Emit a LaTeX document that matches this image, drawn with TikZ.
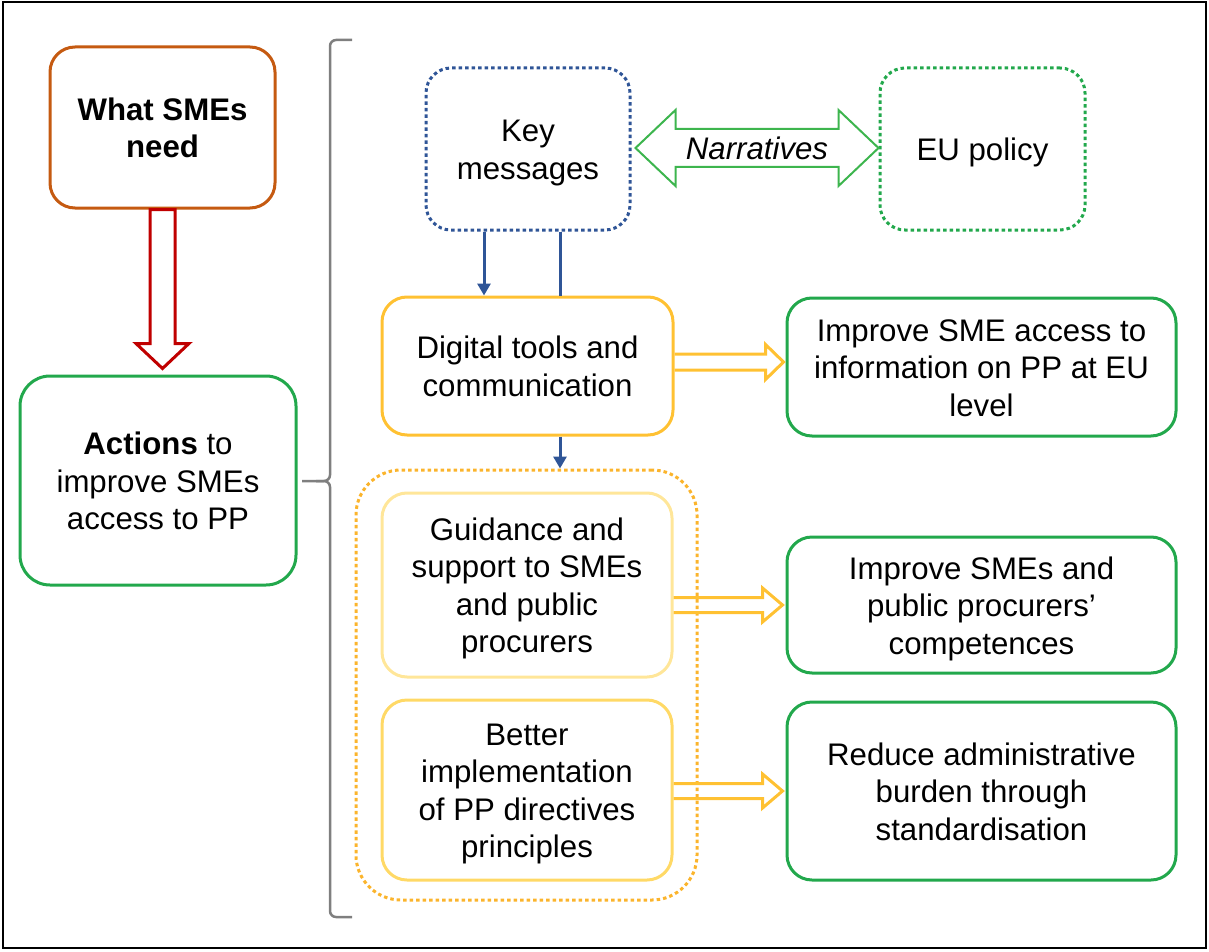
\documentclass[tikz,border=0pt]{standalone}
\usepackage{fontspec}
\setmainfont{Liberation Sans}
\usetikzlibrary{arrows.meta,calc}
\definecolor{needc}{HTML}{C55A11}
\definecolor{redc}{HTML}{C00000}
\definecolor{greenc}{HTML}{22A84C}
\definecolor{narrc}{HTML}{3DB54E}
\definecolor{bluec}{HTML}{2F5597}
\definecolor{digc}{HTML}{FFC132}
\definecolor{guic}{HTML}{FFE699}
\definecolor{betc}{HTML}{FFD966}
\definecolor{grpc}{HTML}{FBB42C}
\definecolor{grayc}{HTML}{7F7F7F}
\newcommand\harrow[6]{%
  \draw[#1] let \p1=(#2), \p2=(#3) in
    (\x1,\y1+#4) -- (\x2-#6,\y1+#4) -- (\x2-#6,\y1+#5) -- (\x2,\y1)
    -- (\x2-#6,\y1-#5) -- (\x2-#6,\y1-#4) -- (\x1,\y1-#4);}
\newcommand\varrow[6]{%
  \draw[#1] let \p1=(#2), \p2=(#3) in
    (\x1-#4,\y1) -- (\x1-#4,\y2+#6) -- (\x1-#5,\y2+#6) -- (\x1,\y2)
    -- (\x1+#5,\y2+#6) -- (\x1+#4,\y2+#6) -- (\x1+#4,\y1) -- cycle;}
\newcommand\tstrut{\rule{0pt}{31pt}}
\newcommand\bstrut{\rule[-8pt]{0pt}{8pt}}
\tikzset{
  bx/.style={draw, rounded corners=25pt, line width=3pt, align=center, inner sep=0pt,
    font=\fontsize{31.2}{37.5}\selectfont},
  dotline/.style={dash pattern=on 3.5pt off 3pt},
  bluearrow/.style={draw=bluec, line width=3pt, -{Triangle[width=13pt,length=12pt]}},
  openarrow/.style={draw=digc, line width=3pt, line join=miter},
  bracket/.style={draw=grayc, line width=2.5pt, rounded corners=6pt},
}
\begin{document}
\begin{tikzpicture}[x=1pt,y=-1pt]
\useasboundingbox (0,0) rectangle (1209,952);
\draw[line width=2pt] (3,2) rectangle (1206,948);

% left column
\node[bx, draw=needc, minimum width=225pt, minimum height=161pt] (need) at (162.5,127.5)
  {\tstrut\textbf{What SMEs}\\\textbf{need}\bstrut};
\node[bx, draw=greenc, rounded corners=30pt, minimum width=276pt, minimum height=209pt] (act) at (158,480.5)
  {\tstrut\textbf{Actions} to\\improve SMEs\\access to PP\bstrut};
\varrow{draw=redc, line width=3pt, fill=white}{need.south}{$(act.north)+(0,-6)$}{12.5pt}{26.5pt}{25pt}

% brace
\draw[bracket] (352,40) -- (330,40) -- (330,481) -- (302,481);
\draw[bracket] (352,917) -- (330,917) -- (330,481) -- (316,481);

% top row
\node[bx, draw=bluec, dotline, minimum width=204pt, minimum height=162pt] (key) at (528,149)
  {\tstrut Key\\messages\bstrut};
\node[bx, draw=greenc, dotline, minimum width=205pt, minimum height=162pt] (eu) at (982.5,149)
  {\tstrut EU policy\bstrut};
\draw[narrc, line width=2pt] let \p1=(key.east), \p2=(eu.west) in
  (\x1+4pt,\y1+1pt) -- (\x1+44pt,\y1+39pt) -- (\x1+44pt,\y1+20pt) -- (\x2-40pt,\y1+20pt)
  -- (\x2-40pt,\y1+39pt) -- (\x2,\y1+1pt) -- (\x2-40pt,\y1-37pt) -- (\x2-40pt,\y1-18pt)
  -- (\x1+44pt,\y1-18pt) -- (\x1+44pt,\y1-37pt) -- cycle;
\node[font=\fontsize{31.2}{36}\selectfont\itshape] (narr) at (757,148) {Narratives};

% middle column
\node[bx, draw=digc, minimum width=291pt, minimum height=138pt] (dig) at (527.5,366)
  {\tstrut Digital tools and\\communication\bstrut};
\node[draw=grpc, line width=3pt, dotline, rounded corners=45pt, minimum width=341pt,
  minimum height=430pt, inner sep=0pt] (grp) at (526.5,685) {};
\node[bx, draw=guic, minimum width=290pt, minimum height=184pt] (gui) at (527,585)
  {\tstrut Guidance and\\support to SMEs\\and public\\procurers\bstrut};
\node[bx, draw=betc, minimum width=290pt, minimum height=180pt] (bet) at (527,790)
  {\tstrut Better\\implementation\\of PP directives\\principles\bstrut};

% right column
\node[bx, draw=greenc, minimum width=389pt, minimum height=138pt] (g1) at (981.5,367)
  {\tstrut Improve SME access to\\information on PP at EU\\level\bstrut};
\node[bx, draw=greenc, minimum width=389pt, minimum height=136pt] (g2) at (981.5,605)
  {\tstrut Improve SMEs and\\public procurers'\\competences\bstrut};
\node[bx, draw=greenc, minimum width=389pt, minimum height=178pt] (g3) at (981.5,791)
  {\tstrut Reduce administrative\\burden through\\standardisation\bstrut};

% blue arrows
\coordinate (b1) at ($(key.south)+(-44,0)$);
\coordinate (b2) at ($(key.south)+(32,0)$);
\draw[bluearrow] (b1) -- (b1 |- dig.north);
\draw[bluec, line width=3pt] (b2) -- (b2 |- dig.north);
\draw[bluearrow] (b2 |- dig.south) -- (b2 |- grp.north);

% open arrows
\harrow{openarrow}{$(dig.east)+(0,-4)$}{$(g1.west)+(-2,0)$}{8pt}{17.5pt}{18pt}
\harrow{openarrow}{$(gui.east)+(0,20)$}{$(g2.west)+(-3,0)$}{7.5pt}{17pt}{20pt}
\harrow{openarrow}{$(bet.east)+(0,1)$}{$(g3.west)+(-3,0)$}{7.5pt}{17pt}{20pt}
\end{tikzpicture}
\end{document}
